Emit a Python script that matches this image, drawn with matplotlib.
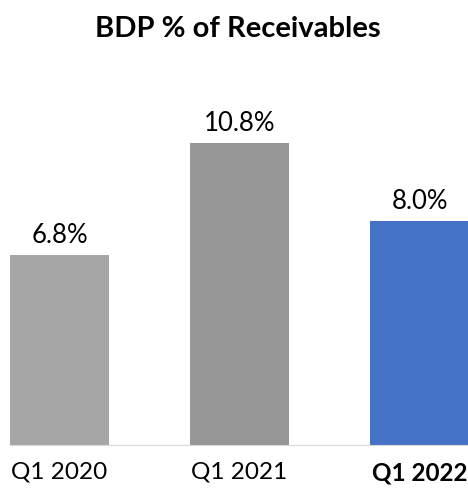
import matplotlib.pyplot as plt

plt.rcParams['font.family'] = ['Lato', 'DejaVu Sans']

quarters = ['Q1 2020', 'Q1 2021', 'Q1 2022']
bdp_pct = [6.8, 10.8, 8.0]
bar_colors = ['#A6A6A6', '#969696', '#4472C4']

fig = plt.figure(figsize=(4.68, 4.88), dpi=100)
ax = fig.add_axes([10/468, 43/488, 459/468, 345/488])

x = range(len(quarters))
bars = ax.bar(x, bdp_pct, width=0.55, color=bar_colors)
for b, v in zip(bars, bdp_pct):
    ax.annotate(f'{v:.1f}%', (b.get_x() + b.get_width()/2, v),
                xytext=(0, 5), textcoords='offset points',
                ha='center', va='bottom', fontsize=18.5)

ax.set_xlim(-0.275, 2.275)
ax.set_ylim(0, 345/28)
ax.set_xticks(list(x))
ax.set_xticklabels(quarters, fontsize=17.5)
ax.get_xticklabels()[2].set_fontweight('bold')
ax.tick_params(axis='x', length=0, pad=12)
ax.set_yticks([])
for s in ax.spines.values():
    s.set_visible(False)
ax.spines['bottom'].set_visible(True)
ax.spines['bottom'].set_color('#D9D9D9')

fig.text(0.509, 1 - 29/488, 'BDP % of Receivables', ha='center', va='center',
         fontsize=21, fontweight='bold')

fig.savefig('out.png', dpi=100)
